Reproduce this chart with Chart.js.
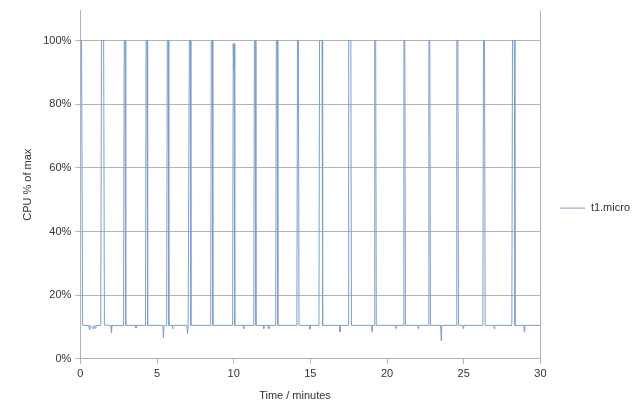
<!DOCTYPE html>
<html>
<head>
<meta charset="utf-8">
<script src="https://cdn.jsdelivr.net/npm/chart.js@4"></script>
<style>
  body { margin: 0; background: #fff; }
  .wrap { width: 640px; height: 418px; }
</style>
</head>
<body>
<div class="wrap"><canvas id="cpuChart" width="640" height="418"></canvas></div>
<script>
const seriesName = "t1.micro";

// time in minutes
const minutes = [
  0, 0.08, 0.15,
  0.55, 0.59, 0.63, 0.85, 0.88, 0.98, 1.02,
  1.33, 1.38, 1.52, 1.57,
  2.0, 2.03, 2.07,
  2.82, 2.86, 2.92, 2.96,
  3.6, 3.63, 3.66,
  4.25, 4.29, 4.35, 4.39,
  5.38, 5.42, 5.46,
  5.63, 5.67, 5.73, 5.77,
  5.98, 6.01, 6.04,
  6.95, 6.99, 7.03,
  7.07, 7.11, 7.17, 7.21,
  8.5, 8.54, 8.6, 8.64,
  9.93, 9.97, 10.0, 10.03, 10.07,
  10.62, 10.65, 10.68,
  11.31, 11.35, 11.41, 11.45,
  11.93, 11.96, 11.99, 12.26, 12.29, 12.32,
  12.74, 12.78, 12.84, 12.88,
  14.12, 14.16, 14.22, 14.26,
  14.94, 14.97, 15.0,
  15.56, 15.6, 15.76, 15.8,
  16.9, 16.93, 16.96,
  17.46, 17.5, 17.64, 17.68,
  18.99, 19.02, 19.05,
  19.16, 19.2, 19.26, 19.3,
  20.56, 20.59, 20.62,
  21.06, 21.1, 21.16, 21.2,
  22.0, 22.03, 22.06,
  22.69, 22.73, 22.79, 22.83,
  23.5, 23.53, 23.56,
  24.51, 24.55, 24.62, 24.66,
  24.94, 24.97, 25.0,
  26.25, 26.29, 26.36, 26.4,
  26.96, 26.99, 27.02,
  28.14, 28.18, 28.3, 28.34,
  28.92, 28.95, 28.98,
  30
];

// CPU % of max
const cpuPercent = [
  100, 100, 10.5,
  10.5, 9.2, 10.5, 9.4, 10.5, 9.6, 10.5,
  10.5, 100, 100, 10.6,
  10.5, 8.2, 10.5,
  10.4, 100, 100, 10.5,
  10.5, 9.7, 10.5,
  10.5, 100, 100, 10.5,
  10.5, 6.6, 10.5,
  10.4, 100, 100, 10.5,
  10.5, 9.4, 10.5,
  10.5, 7.9, 10.5,
  10.5, 100, 100, 10.5,
  10.5, 100, 100, 10.5,
  10.5, 99, 91, 99, 10.5,
  10.5, 9.4, 10.5,
  10.5, 100, 100, 10.5,
  10.5, 9.5, 10.5, 10.5, 9.5, 10.5,
  10.5, 100, 100, 10.5,
  10.5, 100, 100, 10.5,
  10.5, 9.3, 10.5,
  10.5, 100, 100, 10.5,
  10.5, 8.5, 10.5,
  10.5, 100, 100, 10.5,
  10.5, 8.5, 10.5,
  10.5, 100, 100, 10.5,
  10.5, 9.5, 10.5,
  10.5, 100, 100, 10.5,
  10.5, 9.5, 10.5,
  10.5, 100, 100, 10.5,
  10.5, 5.7, 10.5,
  10.5, 100, 100, 10.5,
  10.5, 9.5, 10.5,
  10.5, 100, 100, 10.5,
  10.5, 9.4, 10.5,
  10.5, 100, 100, 10.5,
  10.5, 8.5, 10.5,
  10.5
];

const xTicks = [0, 5, 10, 15, 20, 25, 30];
const yTicks = [0, 20, 40, 60, 80, 100];

const gridColor = "#b3b3b3";
const textColor = "#333333";
const lineColor = "#7e9ecb";

Chart.defaults.font.family = "'Liberation Sans', Arial, sans-serif";
Chart.defaults.font.size = 11;
Chart.defaults.color = textColor;

// x title is centred over the plot + axis area like the original
const xTitle = {
  id: "xTitle",
  afterDraw(chart) {
    const c = chart.ctx;
    c.save();
    c.fillStyle = textColor;
    c.font = "11px 'Liberation Sans', Arial, sans-serif";
    c.textAlign = "center";
    c.textBaseline = "middle";
    c.fillText("Time / minutes", 295, 396);
    c.restore();
  }
};

const ctx = document.getElementById("cpuChart").getContext("2d");

const cpuChart = new Chart(ctx, {
  type: "line",
  data: {
    datasets: [{
      label: seriesName,
      data: minutes.map((t, i) => ({ x: t, y: cpuPercent[i] })),
      borderColor: lineColor,
      backgroundColor: lineColor,
      borderWidth: 1,
      pointRadius: 0,
      tension: 0,
      fill: false
    }]
  },
  options: {
    responsive: false,
    animation: false,
    layout: { padding: { top: 2, left: 21, right: 0, bottom: 33 } },
    plugins: {
      legend: {
        position: "right",
        // empty title only pushes the entry down to mid-canvas
        title: { display: true, text: " ", padding: 8 },
        labels: {
          usePointStyle: true,
          pointStyle: "line",
          pointStyleWidth: 25,
          boxWidth: 25,
          padding: 20,
          color: textColor
        }
      },
      tooltip: { enabled: false }
    },
    scales: {
      x: {
        type: "linear",
        min: 0,
        max: 30,
        afterBuildTicks: (axis) => { axis.ticks = xTicks.map(v => ({ value: v })); },
        ticks: { padding: 4, color: textColor },
        grid: {
          color: (c) => (c.tick && c.tick.value === 30 ? gridColor : "rgba(0,0,0,0)"),
          tickColor: gridColor,
          tickLength: 5
        },
        border: { color: gridColor }
      },
      y: {
        min: 0,
        max: 109.4,
        afterBuildTicks: (axis) => { axis.ticks = yTicks.map(v => ({ value: v })); },
        ticks: {
          padding: 4,
          color: textColor,
          callback: (v) => v + "%"
        },
        grid: { color: gridColor, tickColor: gridColor, tickLength: 5 },
        border: { color: gridColor },
        title: {
          display: true,
          text: "CPU % of max",
          color: textColor,
          padding: { top: 0, bottom: 5 }
        }
      }
    }
  },
  plugins: [xTitle]
});
</script>
</body>
</html>
